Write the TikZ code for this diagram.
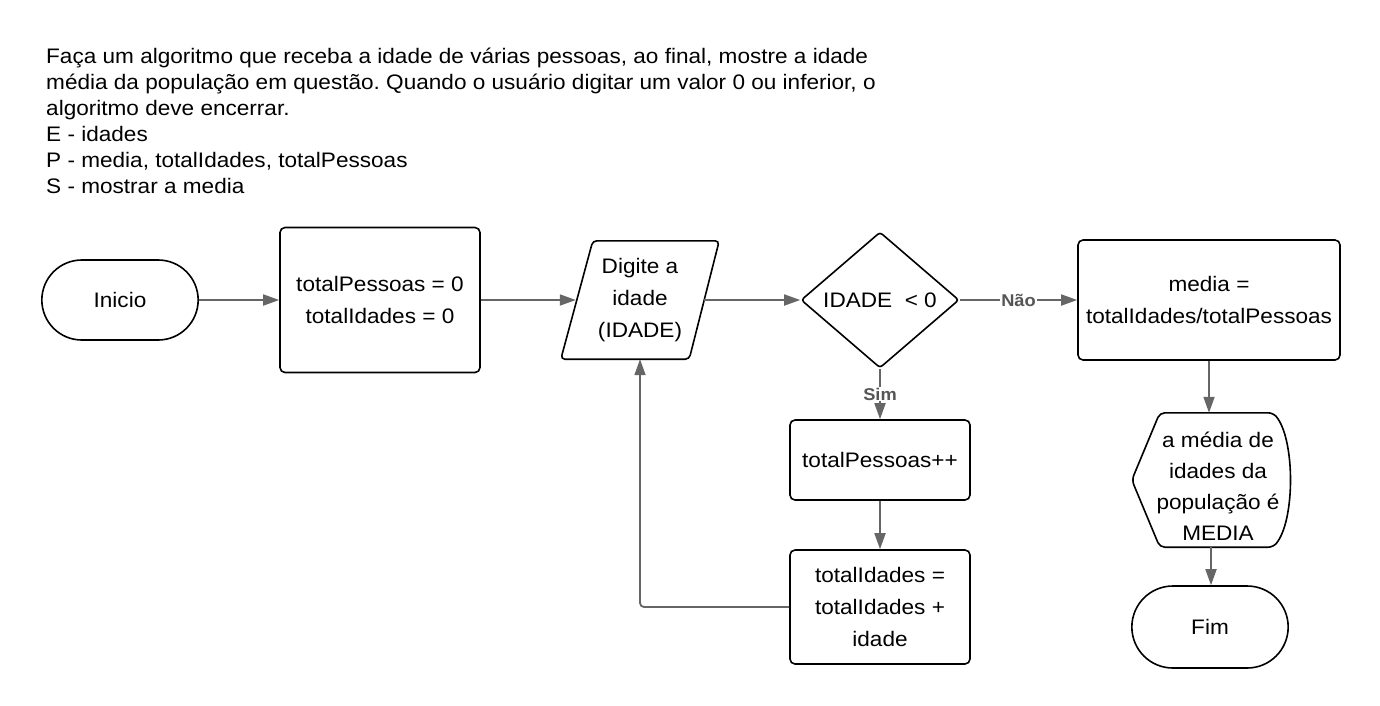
\documentclass[tikz,border=0pt]{standalone}
\usepackage{fontspec}
\setmainfont{Liberation Sans}[FakeStretch=1.075]
\usetikzlibrary{shapes.geometric,shapes.misc,arrows.meta,calc}
\definecolor{conngray}{HTML}{666666}
\definecolor{lblgray}{HTML}{555555}
\begin{document}
\frenchspacing
\begin{tikzpicture}[x=1pt,y=-1pt,
  outline/.style={draw=black,line width=1.6pt},
  txt/.style={font=\fontsize{21}{32}\selectfont, align=center},
  conn/.style={draw=conngray,line width=1.8pt,-{Triangle[length=16pt,width=11pt]}},
  lbl/.style={font=\bfseries\fontsize{17}{17}\selectfont, text=lblgray, fill=white, inner sep=1pt}]
\fill[white] (0,0) rectangle (1380,705);
\useasboundingbox (0,0) rectangle (1380,705);

\node[anchor=north west, inner sep=0pt, align=left, font=\fontsize{21}{26}\selectfont] (header) at (46,48)
 {Faça um algoritmo que receba a idade de várias pessoas, ao final, mostre a idade\\
  média da população em questão. Quando o usuário digitar um valor 0 ou inferior, o\\
  algoritmo deve encerrar.\\
  E - idades\\
  P - media, totalIdades, totalPessoas\\
  S - mostrar a media};

\node[outline, txt, rounded rectangle, minimum width=163pt, minimum height=80pt] (start) at (120,300) {Inicio};
\node[outline, txt, rectangle, rounded corners=5pt, minimum width=200pt, minimum height=145pt] (init) at (380,300) {totalPessoas = 0\\totalIdades = 0};

\node[txt, minimum width=158pt, minimum height=118pt, inner sep=0pt] (par) at (640,300) {Digite a\\idade\\(IDADE)};
\draw[outline, rounded corners=4pt] ($(par.north west)+(32,0)$) -- (par.north east) -- ($(par.south east)-(30,0)$) -- (par.south west) -- cycle;

\node[outline, diamond, minimum width=158pt, minimum height=136pt, inner sep=0pt, rounded corners=3pt] (dec) at (880,300) {};
\node[txt] (dectext) at (dec.center) {IDADE\ \ < 0};

\node[outline, txt, rounded corners=5pt, minimum width=262pt, minimum height=120pt] (media) at (1209,300) {media =\\totalIdades/totalPessoas};

\node[minimum width=158pt, minimum height=134pt, inner sep=0pt] (disp) at (1211,480) {};
\draw[outline, rounded corners=5pt] ($(disp.north west)+(28,0)$) -- ($(disp.north east)+(-17,0)$)
  .. controls ($(disp.north east)+(5,27)$) and ($(disp.south east)+(5,-27)$) .. ($(disp.south east)+(-17,0)$)
  -- ($(disp.south west)+(28,0)$) -- (disp.west) -- cycle;
\node[txt, font=\fontsize{21}{31}\selectfont] (disptext) at (1218,486) {a média de\\idades da\\população é\\MEDIA};

\node[outline, txt, rounded rectangle, minimum width=163pt, minimum height=82pt] (fim) at (1210,627) {Fim};

\node[outline, txt, rounded corners=5pt, minimum width=180pt, minimum height=80pt] (tot1) at (880,460) {totalPessoas++};
\node[outline, txt, rounded corners=5pt, minimum width=180pt, minimum height=114pt] (tot2) at (880,607) {totalIdades =\\totalIdades +\\idade};

\draw[conn] (start) -- (init);
\draw[conn] (init.east) -- ($(par.west)+(15,0)$);
\draw[conn] ($(par.east)-(15,0)$) -- (dec.west);
\draw[conn] (dec.east) -- node[lbl]{Não} (media.west);
\draw[conn] (dec.south) -- node[lbl]{Sim} (tot1.north);
\draw[conn] (tot1) -- (tot2);
\draw[conn, rounded corners=4pt] (tot2.west) -| (par.south);
\draw[conn] (media.south) -- (media.south |- disp.north);
\draw[conn] (disp.south) -- (disp.south |- fim.north);
\end{tikzpicture}
\end{document}
